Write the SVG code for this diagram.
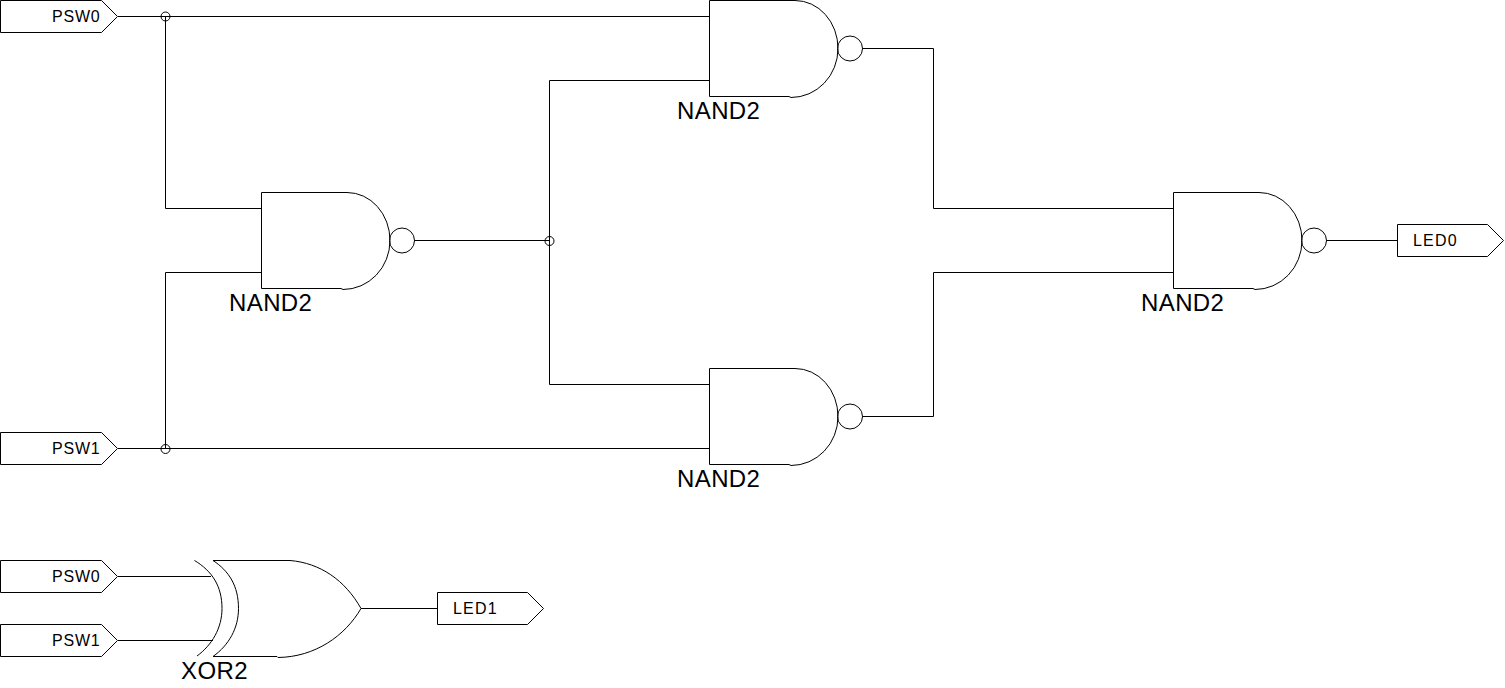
<svg xmlns="http://www.w3.org/2000/svg" width="1505" height="688" viewBox="0 0 1505 688">
<style>
rect.bg{fill:#fff}
path,circle{fill:none;stroke:#000;stroke-width:1}
.lbl{font-family:"Liberation Sans",Arial,sans-serif;font-size:16px;letter-spacing:0.8px;fill:#000}
.nm{font-family:"Liberation Sans",Arial,sans-serif;font-size:24px;letter-spacing:0.4px;fill:#000}
</style>
<defs>
<g id="nand">
<path d="M0.5 0.5H86A43 48 0 0 1 129 48.500A47 49 0 0 1 82 97.500L80 96.500H0.500Z"/>
<circle cx="141" cy="48.500" r="12.500"/>
</g>
<path id="port" d="M0.500 0.500H101.500L117.500 16.500L101.500 32.500H0.500Z"/>
<path id="oport" d="M0.500 0.500H90.500L106.500 16.500L90.500 32.500H0.500Z"/>
</defs>
<rect class="bg" width="1505" height="688"/>
<g id="connectors">
<path d="M118 16.500H709"/>
<path d="M165.500 16.500V208.500H261"/>
<path d="M118 448.500H709"/>
<path d="M165.500 448.500V272.500H261"/>
<path d="M414 240.500H549.500"/>
<path d="M709 80.500H549.500V384.500H709"/>
<path d="M862 48.500H933.500V208.500H1173"/>
<path d="M862 416.500H933.500V272.500H1173"/>
<path d="M1326 240.500H1397"/>
<path d="M118 576.500H211"/>
<path d="M118 640.500H213"/>
<path d="M361 608.500H437"/>
<circle cx="165.500" cy="16.500" r="4.500"/>
<circle cx="165.500" cy="449" r="4.500"/>
<circle cx="549.500" cy="241" r="4.500"/>
</g>
<g id="PSW0_top"><use href="#port" y="0"/><text class="lbl" x="52" y="22">PSW0</text></g>
<g id="PSW1_top"><use href="#port" y="432"/><text class="lbl" x="52" y="454">PSW1</text></g>
<g id="PSW0_bottom"><use href="#port" y="560"/><text class="lbl" x="52" y="582">PSW0</text></g>
<g id="PSW1_bottom"><use href="#port" y="624"/><text class="lbl" x="52" y="646">PSW1</text></g>
<g id="LED0"><use href="#oport" x="1397" y="224"/><text class="lbl" x="1413" y="246" style="letter-spacing:1.2px">LED0</text></g>
<g id="LED1"><use href="#oport" x="437" y="592"/><text class="lbl" x="453" y="614" style="letter-spacing:1.2px">LED1</text></g>
<g id="nand_left"><use href="#nand" x="261" y="192"/><text class="nm" x="229" y="311">NAND2</text></g>
<g id="nand_top"><use href="#nand" x="709" y="0"/><text class="nm" x="677" y="119">NAND2</text></g>
<g id="nand_bottom"><use href="#nand" x="709" y="368"/><text class="nm" x="677" y="487">NAND2</text></g>
<g id="nand_right"><use href="#nand" x="1173" y="192"/><text class="nm" x="1141" y="311">NAND2</text></g>
<g id="xor">
<path d="M194.500 560.500C212 571 222 586 222 608.500C222 628 212 645 197 656"/>
<path d="M213 560.500H290C320 563 345 580 361 608.500C345 636 315 657 278 657.500L277 656.500H213C229 645 238.500 628 238.500 608.500C238.500 586 229 571 213 560.500Z"/>
<text class="nm" x="181" y="679">XOR2</text>
</g>
</svg>
